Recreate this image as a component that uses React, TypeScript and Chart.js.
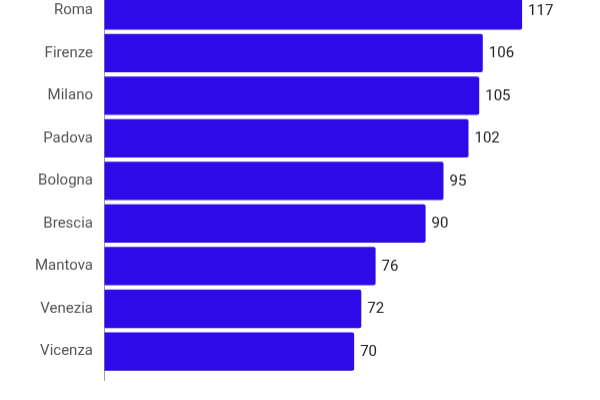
import React from "react";
import Chart, { ChartItem, Plugin } from "chart.js/auto";

const cities = ["Roma", "Firenze", "Milano", "Padova", "Bologna", "Brescia", "Mantova", "Venezia", "Vicenza"];
const counts = [117, 106, 105, 102, 95, 90, 76, 72, 70];

const barColor = "#2f0ae8";

// value printed just after the end of each bar
const valueLabels: Plugin<"bar"> = {
  id: "valueLabels",
  afterDatasetsDraw(chart) {
    const ctx = chart.ctx;
    const meta = chart.getDatasetMeta(0);
    ctx.save();
    ctx.font = "15px Roboto";
    ctx.fillStyle = "#222";
    ctx.textAlign = "left";
    ctx.textBaseline = "middle";
    meta.data.forEach((bar, i) => {
      const { x, y } = bar.getProps(["x", "y"], true);
      ctx.fillText(String(counts[i]), x + 6, y + 0.5);
    });
    ctx.restore();
  },
};

const App: React.FC = () => {
  const chartRef = React.useRef<HTMLCanvasElement>(null);

  React.useEffect(() => {
    const chart = new Chart(chartRef.current as ChartItem, {
      type: "bar",
      data: {
        labels: cities,
        datasets: [
          {
            data: counts,
            backgroundColor: barColor,
            borderRadius: 2,
            borderSkipped: "start",
            barPercentage: 0.9,
            categoryPercentage: 1,
          },
        ],
      },
      options: {
        indexAxis: "y",
        animation: false,
        responsive: true,
        maintainAspectRatio: false,
        layout: { padding: { top: 9, right: 10, bottom: 12, left: 0 } },
        plugins: {
          legend: { display: false },
          tooltip: { enabled: false },
        },
        scales: {
          x: {
            min: 0,
            max: 136,
            border: { display: false },
            ticks: { display: false, stepSize: 20 },
            grid: {
              drawOnChartArea: false,
              drawTicks: true,
              tickLength: 8,
              color: (c) => (c.tick && c.tick.value === 0 ? "#9e9e9e" : "rgba(0,0,0,0)"),
            },
          },
          y: {
            afterFit: (s) => {
              s.width = 104;
            },
            border: { display: true, color: "#9e9e9e", width: 1 },
            grid: { display: false, drawTicks: false },
            ticks: {
              padding: 11,
              color: "#555",
              font: { family: "Roboto", size: 15 },
            },
          },
        },
      },
      plugins: [valueLabels],
    });

    return () => {
      chart.destroy();
    };
  }, []);

  return (
    <div style={{ position: "absolute", top: -31, left: 0, width: 600, height: 422.8, background: "#fff" }}>
      <canvas ref={chartRef}></canvas>
    </div>
  );
};

export default App;
